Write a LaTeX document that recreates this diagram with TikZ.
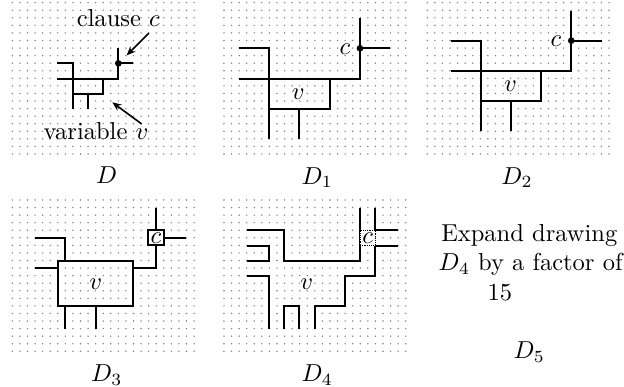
\documentclass[tikz,border=0pt]{standalone}
\usetikzlibrary{arrows.meta}
\tikzset{
  griddot/.style={fill=black!50,draw=none},
  wire/.style={draw=black,line width=1.9pt,line cap=butt,line join=miter},
  boxw/.style={draw=black,line width=2.2pt},
  txt/.style={scale=2.45,inner sep=0pt,outer sep=0pt,anchor=base},
  lbl/.style={scale=2.45,inner sep=0pt,outer sep=0pt},
  pointer/.style={draw=black,line width=1.6pt,-{Stealth[length=9pt,width=7.5pt]}},
  zoomed/.style={x=0.3333pt,y=-0.3333pt}
}
% dot grid: 25 columns x 21 rows, zoomed units
\newcommand{\dotgrid}[2]{%
  \foreach \i in {0,...,24}{\foreach \j in {0,...,20}{%
    \fill[griddot] ({#1+\i*22.72},{#2+\j*22.7}) circle[radius=2.4];}}}
\begin{document}
\begin{tikzpicture}[x=1pt,y=-1pt]
\useasboundingbox (0,0) rectangle (624,387);
\fill[white] (0,0) rectangle (624,387);
% D
\begin{scope}[zoomed]
\dotgrid{37}{8}
\draw[wire] (172,190)--(218,190)--(218,326);
\draw[wire] (172,236)--(355,236)--(355,145);
\draw[wire] (355,190)--(400,190);
\draw[wire] (218,281)--(309,281)--(309,236);
\draw[wire] (263,281)--(263,326);
\fill (355,190) circle[radius=10];
\node[txt] (clauselabel) at (355,80) {clause $c$};
\node[txt] (varlabel) at (288,420) {variable $v$};
\node[txt] (dlabel) at (320,550) {$D$};
\coordinate (aone) at (447,99);
\coordinate (bone) at (380,166);
\coordinate (atwo) at (425,372);
\coordinate (btwo) at (337,307);
\draw[pointer] (aone)--(bone);
\draw[pointer] (atwo)--(btwo);
\end{scope}
% D1
\begin{scope}[zoomed,shift={(630,0)}]
\dotgrid{42}{8}
\draw[wire] (87,145)--(178,145)--(178,417);
\draw[wire] (87,236)--(450,236)--(450,55);
\draw[wire] (450,145)--(541,145);
\draw[wire] (178,326)--(359,326)--(359,236);
\draw[wire] (268,326)--(268,417);
\fill (450,145) circle[radius=10];
\node[lbl,fill=white,inner sep=0.3pt] (c1) at (405,147) {$c$};
\node[lbl,fill=white,inner sep=0.3pt] (v1) at (265,283) {$v$};
\node[txt] (d1label) at (322,553) {$D_1$};
\end{scope}
% D2
\begin{scope}[zoomed,shift={(1260,0)}]
\dotgrid{22}{8}
\draw[wire] (92,122)--(182,122)--(182,394);
\draw[wire] (92,213)--(454,213)--(454,32);
\draw[wire] (454,122)--(545,122);
\draw[wire] (182,304)--(363,304)--(363,213);
\draw[wire] (272,304)--(272,394);
\fill (454,122) circle[radius=10];
\node[lbl,fill=white,inner sep=0.3pt] (c2) at (408,124) {$c$};
\node[lbl,fill=white,inner sep=0.3pt] (v2) at (272,260) {$v$};
\node[txt] (d2label) at (291,553) {$D_2$};
\end{scope}
% D3
\begin{scope}[zoomed,shift={(0,570)}]
\dotgrid{37}{30}
\draw[boxw] (173,212) rectangle (400,348);
\draw[wire] (105,144)--(196,144)--(196,212);
\draw[wire] (105,235)--(173,235);
\draw[wire] (400,235)--(468,235)--(468,166);
\draw[wire] (468,121)--(468,54);
\draw[wire] (491,144)--(558,144);
\draw[wire] (196,348)--(196,416);
\draw[wire] (287,348)--(287,416);
\draw[boxw,fill=white] (445,121) rectangle (491,166);
\node[lbl] (c3) at (468,146) {$c$};
\node[lbl,fill=white,inner sep=0.3pt] (v3) at (287,283) {$v$};
\node[txt] (d3label) at (320,575) {$D_3$};
\end{scope}
% D4
\begin{scope}[zoomed,shift={(630,570)}]
\dotgrid{42}{30}
\draw[wire] (110,121)--(223,121)--(223,212)--(450,212)--(450,54);
\draw[wire] (496,54)--(496,121)--(564,121);
\draw[wire] (564,167)--(496,167)--(496,258)--(405,258)--(405,349)--(314,349)--(314,416);
\draw[wire] (110,167)--(178,167)--(178,212)--(110,212);
\draw[wire] (110,258)--(178,258)--(178,416);
\draw[wire] (223,416)--(223,349)--(268,349)--(268,416);
\draw[draw=black,line width=1.2pt,densely dotted,fill=white] (450,121) rectangle (496,167);
\node[lbl] (c4) at (473,146) {$c$};
\node[lbl,fill=white,inner sep=0.3pt] (v4) at (290,283) {$v$};
\node[txt] (d4label) at (322,575) {$D_4$};
\end{scope}
% D5
\begin{scope}[zoomed,shift={(1260,570)}]
\node[txt] (t1) at (328,155) {Expand drawing};
\node[txt] (t2) at (332,243) {$D_4$ by a factor of};
\node[txt] (t3) at (240,332) {15};
\node[txt] (d5label) at (328,507) {$D_5$};
\end{scope}
\end{tikzpicture}
\end{document}
